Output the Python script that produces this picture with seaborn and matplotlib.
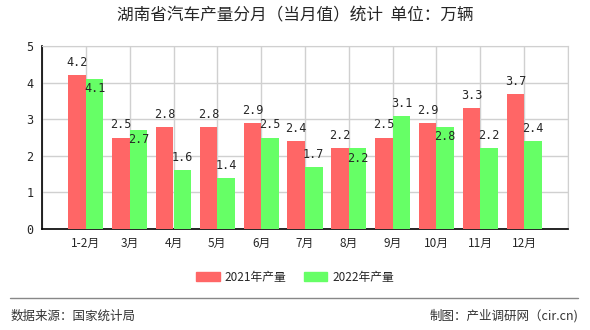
import matplotlib
matplotlib.use("Agg")
import matplotlib.pyplot as plt
import seaborn as sns
import pandas as pd
from matplotlib.patches import Patch

months = ["1-2月", "3月", "4月", "5月", "6月", "7月", "8月", "9月", "10月", "11月", "12月"]
v2021 = [4.2, 2.5, 2.8, 2.8, 2.9, 2.4, 2.2, 2.5, 2.9, 3.3, 3.7]
v2022 = [4.1, 2.7, 1.6, 1.4, 2.5, 1.7, 2.2, 3.1, 2.8, 2.2, 2.4]
series = ["2021年产量", "2022年产量"]
yticks = [0, 1, 2, 3, 4, 5]

sns.set_style("white")
plt.rcParams['font.family'] = ['Noto Sans CJK SC', 'DejaVu Sans']

df = pd.DataFrame({
    "month": months * 2,
    "value": v2021 + v2022,
    "series": [series[0]] * len(months) + [series[1]] * len(months),
})

fig = plt.figure(figsize=(5.9, 3.3), dpi=100)
ax = fig.add_axes([42 / 590, (330 - 229) / 330, 526 / 590, (229 - 46) / 330])

palette = {series[0]: "#ff6666", series[1]: "#66ff66"}
sns.barplot(data=df, x="month", y="value", hue="series", order=months,
            hue_order=series, palette=palette, width=0.8, ax=ax,
            saturation=1, legend=False, zorder=3, linewidth=0, edgecolor="none")

n = len(months)
ax.set_xlim(-1, n)
ax.set_ylim(0, 5)
ax.set_xticks(range(-1, n + 1))
ax.set_xticklabels([""] + months + [""], fontsize=8.5)
ax.set_yticks(yticks)
ax.set_yticklabels([str(t) for t in yticks], fontsize=8.5, family='DejaVu Sans Mono')
ax.set_xlabel("")
ax.set_ylabel("")
ax.grid(True, color="#d0d0d0", linewidth=1, zorder=0)
ax.set_axisbelow(True)
for s in ["top", "right"]:
    ax.spines[s].set_color("#d0d0d0")
for s in ["left", "bottom"]:
    ax.spines[s].set_color("black")
    ax.spines[s].set_linewidth(1.2)
ax.tick_params(axis="both", direction="out", length=4, width=1, color="black", pad=2)

# value labels
for i, (a, b) in enumerate(zip(v2021, v2022)):
    ax.annotate(f"{a}", (i - 0.2, a), xytext=(0, 9), textcoords="offset points",
                ha="center", va="center", fontsize=8.5, family='DejaVu Sans Mono')
    off = -7 if abs(a - b) < 0.3 else 9
    ax.annotate(f"{b}", (i + 0.2, b), xytext=(0, off), textcoords="offset points",
                ha="center", va="center", fontsize=8.5, family='DejaVu Sans Mono')

fig.text(0.5, 1 - 16 / 330, "湖南省汽车产量分月（当月值）统计  单位：万辆",
         ha="center", va="center", fontsize=12)

handles = [Patch(color=palette[s], label=s) for s in series]
fig.legend(handles=handles, loc="center", bbox_to_anchor=(0.5, 1 - 277 / 330),
           ncol=2, frameon=False, fontsize=8.5, handlelength=2.0, handleheight=0.9,
           columnspacing=1.5, handletextpad=0.4)

fig.add_artist(plt.Line2D([10 / 590, 578 / 590], [1 - 298 / 330] * 2,
                          color="#888888", linewidth=1))
fig.text(11 / 590, 1 - 316 / 330, "数据来源：国家统计局", ha="left", va="center",
         fontsize=9, color="#333333")
fig.text(578 / 590, 1 - 316 / 330, "制图：产业调研网（cir.cn)", ha="right", va="center",
         fontsize=9, color="#333333")

fig.savefig("out.png", dpi=100)
